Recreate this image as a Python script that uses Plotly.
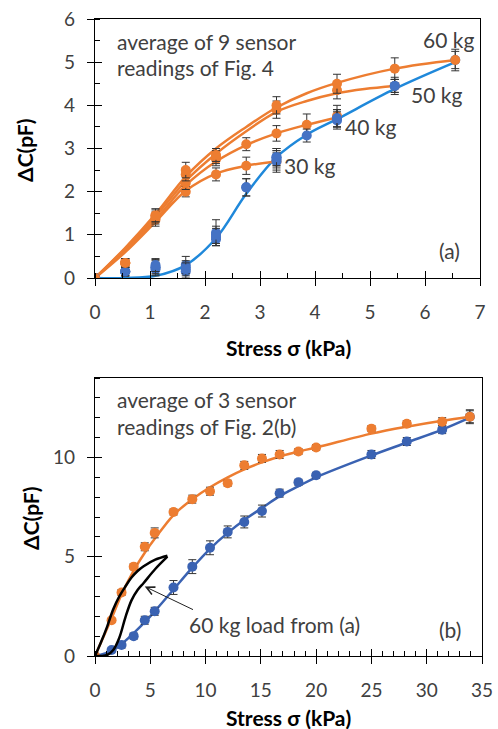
import plotly.graph_objects as go

W, H = 498, 729

# ---------------- Panel (a) data ----------------
load30_x = [0, 0.55, 1.1, 1.65, 2.2, 2.75, 3.3]
load30_y = [0, 0.35, 1.35, 2.0, 2.4, 2.6, 2.7]
load30_e = [0, 0.1, 0.15, 0.12, 0.15, 0.2, 0.2]
load40_x = [0, 0.55, 1.1, 1.65, 2.2, 2.75, 3.3, 3.85, 4.4]
load40_y = [0, 0.35, 1.4, 2.2, 2.75, 3.1, 3.35, 3.55, 3.75]
load40_e = [0, 0.1, 0.15, 0.15, 0.15, 0.15, 0.18, 0.25, 0.25]
load50_x = [0, 0.55, 1.1, 1.65, 2.2, 3.3, 4.4, 5.45]
load50_y = [0, 0.35, 1.45, 2.4, 2.8, 3.9, 4.35, 4.45]
load50_e = [0, 0.1, 0.15, 0.15, 0.15, 0.2, 0.2, 0.2]
load60_x = [0, 0.55, 1.1, 1.65, 2.2, 3.3, 4.4, 5.45, 6.55]
load60_y = [0, 0.35, 1.45, 2.5, 2.85, 4.0, 4.5, 4.85, 5.05]
load60_e = [0, 0.1, 0.15, 0.18, 0.15, 0.2, 0.22, 0.25, 0.25]

unload30_x = [0, 0.55, 1.1, 1.65, 2.2, 2.75, 3.3]
unload30_y = [0, 0.15, 0.25, 0.3, 1.05, 2.1, 2.7]
unload30_e = [0, 0.1, 0.18, 0.2, 0.3, 0.2, 0.25]
unload40_x = [0, 0.55, 1.1, 1.65, 2.2, 2.75, 3.3, 3.85, 4.4]
unload40_y = [0, 0.15, 0.2, 0.15, 0.9, 2.1, 2.8, 3.3, 3.65]
unload40_e = [0, 0.1, 0.15, 0.15, 0.15, 0.2, 0.2, 0.15, 0.2]
unload50_x = [0, 0.55, 1.1, 1.65, 2.2, 3.3, 4.4, 5.45]
unload50_y = [0, 0.15, 0.25, 0.25, 0.95, 2.75, 3.7, 4.45]
unload50_e = [0, 0.1, 0.15, 0.15, 0.2, 0.2, 0.2, 0.15]
unload60_x = [0, 0.55, 1.1, 1.65, 2.2, 3.3, 4.4, 5.45, 6.55]
unload60_y = [0, 0.15, 0.3, 0.2, 1.0, 2.8, 3.7, 4.45, 5.05]
unload60_e = [0, 0.1, 0.15, 0.15, 0.2, 0.2, 0.2, 0.15, 0.2]

# fitted (smoothed) curves
fit30_x = [0, 0.55, 1.1, 1.65, 2.2, 2.75, 3.3]
fit30_y = [0, 0.6, 1.3, 2.02, 2.42, 2.6, 2.7]
fit40_x = [0, 0.55, 1.1, 1.65, 2.2, 2.75, 3.3, 3.85, 4.4]
fit40_y = [0, 0.65, 1.35, 2.15, 2.7, 3.08, 3.35, 3.55, 3.72]
fit50_x = [0, 0.55, 1.1, 1.65, 2.2, 2.75, 3.3, 3.85, 4.4, 4.9, 5.45]
fit50_y = [0, 0.68, 1.42, 2.25, 2.88, 3.4, 3.85, 4.1, 4.28, 4.38, 4.45]
fit60_x = [0, 0.55, 1.1, 1.65, 2.2, 2.75, 3.3, 3.85, 4.4, 5.45, 6.55]
fit60_y = [0, 0.7, 1.48, 2.35, 3.0, 3.5, 3.95, 4.28, 4.52, 4.85, 5.05]
fitU_x = [0, 0.55, 1.1, 1.65, 2.2, 2.75, 3.3, 3.85, 4.4, 5.45, 6.55]
fitU_y = [0, 0.0, 0.05, 0.3, 0.92, 1.95, 2.8, 3.32, 3.68, 4.38, 5.0]

# ---------------- Panel (b) data ----------------
b_x = [0, 1.5, 2.4, 3.5, 4.5, 5.4, 7.1, 8.8, 10.4, 12.0, 13.5, 15.1, 16.7, 18.4, 20.0, 25.0, 28.2, 31.4, 33.9]
b_load_y = [0, 1.8, 3.2, 4.5, 5.5, 6.2, 7.25, 7.9, 8.3, 8.7, 9.6, 9.95, 10.15, 10.3, 10.5, 11.45, 11.7, 11.8, 12.05]
b_load_e = [0, 0.1, 0.15, 0.15, 0.2, 0.25, 0.15, 0.2, 0.2, 0.15, 0.2, 0.2, 0.2, 0.15, 0.15, 0.15, 0.15, 0.2, 0.35]
b_unload_y = [0, 0.3, 0.55, 1.0, 1.8, 2.25, 3.45, 4.5, 5.45, 6.25, 6.75, 7.3, 8.2, 8.75, 9.1, 10.15, 10.8, 11.4, 12.05]
b_unload_e = [0, 0.1, 0.15, 0.15, 0.2, 0.2, 0.35, 0.35, 0.35, 0.3, 0.3, 0.3, 0.2, 0.15, 0.15, 0.2, 0.2, 0.2, 0.3]
b_fitL_y = [0, 1.9, 3.1, 4.3, 5.2, 5.9, 7.1, 7.9, 8.5, 9.0, 9.4, 9.75, 10.05, 10.3, 10.5, 11.2, 11.55, 11.85, 12.05]
b_fitU_y = [0, 0.25, 0.6, 1.15, 1.7, 2.25, 3.35, 4.45, 5.4, 6.2, 6.85, 7.45, 8.05, 8.55, 9.0, 10.1, 10.75, 11.4, 12.0]

ORANGE = "#ED7D31"
BLUE_A_MK = "#4472C4"
BLUE_A_LN = "#1F88DA"
BLUE_B = "#3A62B2"
ERR = "#333333"
FONT = "Lato"

fig = go.Figure()


def line(x, y, color, xa="x", ya="y", width=2.5):
    fig.add_trace(go.Scatter(x=x, y=y, mode="lines", xaxis=xa, yaxis=ya,
                             line=dict(color=color, width=width, shape="spline", smoothing=1.0),
                             hoverinfo="skip", showlegend=False))


def marks(x, y, e, color, xa="x", ya="y", size=10):
    fig.add_trace(go.Scatter(x=x, y=y, mode="markers", xaxis=xa, yaxis=ya,
                             marker=dict(color=color, size=size),
                             error_y=dict(type="data", array=e, color=ERR, thickness=1, width=4),
                             showlegend=False))


# panel (a)
line(fitU_x, fitU_y, BLUE_A_LN)
line(fit30_x, fit30_y, ORANGE)
line(fit40_x, fit40_y, ORANGE)
line(fit50_x, fit50_y, ORANGE)
line(fit60_x, fit60_y, ORANGE)
marks(load30_x, load30_y, load30_e, ORANGE)
marks(load40_x, load40_y, load40_e, ORANGE)
marks(load50_x, load50_y, load50_e, ORANGE)
marks(unload30_x, unload30_y, unload30_e, BLUE_A_MK)
marks(unload40_x, unload40_y, unload40_e, BLUE_A_MK)
marks(unload50_x, unload50_y, unload50_e, BLUE_A_MK)
marks(unload60_x, unload60_y, unload60_e, BLUE_A_MK)
marks(load60_x, load60_y, load60_e, ORANGE)

# panel (b)
line(b_x, b_fitU_y, BLUE_B, "x2", "y2")
line(b_x, b_fitL_y, ORANGE, "x2", "y2")
marks(b_x, b_unload_y, b_unload_e, BLUE_B, "x2", "y2")
marks(b_x, b_load_y, b_load_e, ORANGE, "x2", "y2")
line(fit60_x, fit60_y, "black", "x2", "y2", width=2.5)
line(fitU_x, fitU_y, "black", "x2", "y2", width=2.5)

# dummy traces for overlay tick axes
fig.add_trace(go.Scatter(x=[None], y=[None], xaxis="x3", yaxis="y3", showlegend=False, hoverinfo="skip"))
fig.add_trace(go.Scatter(x=[None], y=[None], xaxis="x4", yaxis="y4", showlegend=False, hoverinfo="skip"))

dom_xa = [95 / W, 480 / W]
dom_ya = [1 - 278 / H, 1 - 19 / H]
dom_xb = [95 / W, 482 / W]
dom_yb = [1 - 656 / H, 1 - 378 / H]

tickfont = dict(family=FONT, size=19, color="#404040")
axcommon = dict(showgrid=False, zeroline=False, showline=True, linecolor="black", linewidth=1.3,
                ticks="outside", ticklen=7, tickcolor="black", tickwidth=1.3,
                tickfont=tickfont, mirror=True, fixedrange=True, automargin=False)
overlay = dict(showgrid=False, zeroline=False, showline=False, ticks="inside", ticklen=7,
               tickcolor="black", tickwidth=1.3, showticklabels=False, fixedrange=True)

fig.update_layout(
    width=W, height=H, margin=dict(l=0, r=0, t=0, b=0),
    paper_bgcolor="white", plot_bgcolor="white", showlegend=False,
    xaxis=dict(domain=dom_xa, anchor="y", range=[0, 7], dtick=1, tick0=0,
               minor=dict(dtick=0.5, ticks="inside", ticklen=5, tickcolor="black", tickwidth=1.2),
               ticklabelstandoff=10, **axcommon),
    yaxis=dict(domain=dom_ya, anchor="x", range=[0, 6], dtick=1, tick0=0,
               minor=dict(dtick=0.5, ticks="inside", ticklen=5, tickcolor="black", tickwidth=1.2),
               ticklabelstandoff=8, **axcommon),
    xaxis2=dict(domain=dom_xb, anchor="y2", range=[0, 35], dtick=5, tick0=0,
                minor=dict(dtick=1, ticks="inside", ticklen=5, tickcolor="black", tickwidth=1.2),
                ticklabelstandoff=10, **axcommon),
    yaxis2=dict(domain=dom_yb, anchor="x2", range=[0, 14], dtick=5, tick0=0,
                minor=dict(dtick=1, ticks="inside", ticklen=5, tickcolor="black", tickwidth=1.2),
                ticklabelstandoff=8, **axcommon),
    xaxis3=dict(overlaying="x", anchor="y3", range=[0, 7], dtick=1, tick0=0, **overlay),
    yaxis3=dict(overlaying="y", anchor="x3", range=[0, 6], dtick=1, tick0=0, **overlay),
    xaxis4=dict(overlaying="x2", anchor="y4", range=[0, 35], dtick=5, tick0=0, **overlay),
    yaxis4=dict(overlaying="y2", anchor="x4", range=[0, 14], dtick=5, tick0=0, **overlay),
)

txt = dict(family=FONT, size=21, color="#404040")
bold = dict(family=FONT, size=21, color="black")
ann = []


def A(text, x, y, xref, yref, font=txt, xanchor="center", yanchor="middle", angle=0):
    ann.append(dict(text=text, x=x, y=y, xref=xref, yref=yref, showarrow=False,
                    font=font, xanchor=xanchor, yanchor=yanchor, textangle=angle))


# panel (a) annotations
A("average of 9 sensor", 0.36, 5.49, "x", "y", xanchor="left")
A("readings of Fig. 4", 0.36, 4.87, "x", "y", xanchor="left")
A("60 kg", 6.42, 5.52, "x", "y")
A("50 kg", 6.2, 4.25, "x", "y")
A("40 kg", 5.0, 3.5, "x", "y")
A("30 kg", 3.9, 2.6, "x", "y")
A("(a)", 6.45, 0.64, "x", "y")
# panel (b) annotations
A("average of 3 sensor", 1.8, 12.9, "x2", "y2", xanchor="left")
A("readings of Fig. 2(b)", 1.8, 11.57, "x2", "y2", xanchor="left")
A("(b)", 32.1, 1.32, "x2", "y2")
A("60 kg load from (a)", 8.3, 1.57, "x2", "y2", xanchor="left")
# axis titles
A("<b>ΔC(pF)</b>", 25 / W, 1 - 150 / H, "paper", "paper", font=bold, angle=-90)
A("<b>ΔC(pF)</b>", 30 / W, 1 - 518 / H, "paper", "paper", font=bold, angle=-90)
A("<b>Stress σ (kPa)</b>", 288 / W, 1 - 347 / H, "paper", "paper", font=bold)
A("<b>Stress σ (kPa)</b>", 288 / W, 1 - 717 / H, "paper", "paper", font=bold)

ann.append(dict(x=4.5, y=3.5, ax=9.0, ay=2.3, xref="x2", yref="y2", axref="x2", ayref="y2",
                showarrow=True, arrowhead=5, arrowsize=1.6, arrowwidth=1, arrowcolor="#222222", text=""))

fig.update_layout(annotations=ann)
fig.write_html("out.html", config={"displayModeBar": False},
               post_script="document.body.style.margin='0px';document.body.style.overflow='hidden';")
